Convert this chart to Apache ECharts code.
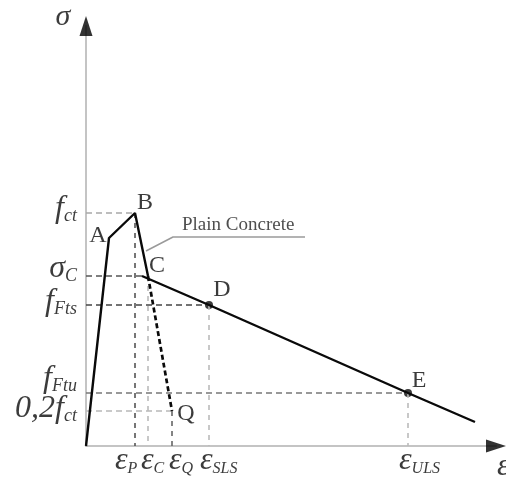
<!DOCTYPE html>
<html>
<head>
<meta charset="utf-8">
<style>
  html, body { margin: 0; padding: 0; background: #fff; }
  #chart { width: 506px; height: 484px; }
</style>
<script src="https://cdn.jsdelivr.net/npm/echarts/dist/echarts.min.js"></script>
</head>
<body>
<div id="chart"></div>
<script>
// Tension softening law of fibre reinforced concrete (schematic sigma-epsilon diagram)

// Linear-elastic branch, pre-peak branch and drop to point C
const riseX = [0, 2.3, 4.9, 6.2];
const riseY = [0, 20.8, 23.3, 17.0];
// Plain concrete continues its drop down to Q
const plainX = [6.2, 8.6];
const plainY = [17.0, 3.5];
// Post-cracking (softening) branch through D and E
const softX = [5.6, 12.3, 32.2, 38.9];
const softY = [17.0, 14.1, 5.3, 2.4];

// Named points
const pointNames = ['A', 'B', 'C', 'D', 'E', 'Q'];
const pointX = [2.3, 4.9, 6.2, 12.3, 32.2, 8.6];
const pointY = [20.8, 23.3, 17.0, 14.1, 5.3, 3.5];
const markedPoints = ['D', 'E'];

// Stress levels on the vertical axis (symbol + subscript), with the strain where each guide ends
const stressMain = ['f', 'σ', 'f', 'f', '0,2f'];
const stressSub = ['ct', 'C', 'Fts', 'Ftu', 'ct'];
const stressValues = [23.3, 17.0, 14.1, 5.3, 3.5];
const stressGuideEnd = [4.9, 5.6, 12.3, 32.2, 8.6];

// Strain levels on the horizontal axis, with the stress where each guide starts
const strainMain = ['ε', 'ε', 'ε', 'ε', 'ε'];
const strainSub = ['P', 'C', 'Q', 'SLS', 'ULS'];
const strainValues = [4.9, 6.2, 8.6, 12.3, 32.2];
const strainGuideTop = [23.3, 17.0, 3.5, 14.1, 5.3];

// Annotation for the plain concrete branch: leader from the curve, then the underline
const leaderX = [6.0, 8.7, 21.9];
const leaderY = [19.5, 20.9, 20.9];
const leaderText = 'Plain Concrete';

const xMax = 41, yMax = 42;
const axisTitleX = 'ε', axisTitleY = 'σ';

// ---- styling ----
const SERIF = '"Liberation Serif", "Times New Roman", serif';
const INK = '#0a0a0a';
const stressGuideColor = ['#a8a8a8', '#555', '#444', '#777', '#b8b8b8'];
const strainGuideColor = ['#555', '#bbb', '#666', '#bbb', '#bbb'];
const stressLabelOffset = [[0, -3], [0, -6], [0, -2], [0, -13], [0, -1]];
const strainLabelOffset = [[-20, -3], [-7, -3], [-3, -3], [-9, -3], [-9, -3]];
const pointLabelOffset = {
  A: [-11, -2], B: [10, -10], C: [9, -10], D: [13, -15], E: [11, -12], Q: [14, 3]
};

const zip = (xs, ys) => xs.map((x, i) => [x, ys[i]]);

const richMath = {
  m: { fontFamily: SERIF, fontStyle: 'italic', fontSize: 32, color: INK, lineHeight: 30, verticalAlign: 'bottom' },
  s: { fontFamily: SERIF, fontStyle: 'italic', fontSize: 18, color: INK, lineHeight: 12, verticalAlign: 'bottom' },
  e: { fontFamily: SERIF, fontStyle: 'italic', fontSize: 32, color: INK, lineHeight: 30, verticalAlign: 'bottom' },
  es: { fontFamily: SERIF, fontStyle: 'italic', fontSize: 16, color: INK, lineHeight: 12, verticalAlign: 'bottom' }
};

const series = [];

// Dashed guide lines from the axes to the characteristic points
stressValues.forEach((v, i) => {
  series.push({
    type: 'line', silent: true, symbol: 'none',
    data: [[0, v], [stressGuideEnd[i], v]],
    lineStyle: { color: stressGuideColor[i], width: 1.6, type: [6, 4] }
  });
});
strainValues.forEach((v, i) => {
  series.push({
    type: 'line', silent: true, symbol: 'none',
    data: [[v, strainGuideTop[i]], [v, 0]],
    lineStyle: { color: strainGuideColor[i], width: 1.6, type: [5, 5] }
  });
});

// Constitutive curve
series.push({
  type: 'line', silent: true, symbol: 'none',
  data: zip(riseX, riseY),
  lineStyle: { color: INK, width: 2.4 }
});
series.push({
  type: 'line', silent: true, symbol: 'none',
  data: zip(plainX, plainY),
  lineStyle: { color: INK, width: 2.7, type: [5, 3] }
});
series.push({
  type: 'line', silent: true, symbol: 'none',
  data: zip(softX, softY),
  lineStyle: { color: INK, width: 2.4 }
});

// Leader line and its caption
series.push({
  type: 'line', silent: true, symbol: 'none',
  data: zip(leaderX, leaderY),
  lineStyle: { color: '#9a9a9a', width: 1.5 }
});
series.push({
  type: 'scatter', silent: true, symbolSize: 0, clip: false,
  data: [{
    value: [leaderX[1], leaderY[1]],
    label: {
      show: true, position: 'inside', align: 'left', verticalAlign: 'bottom',
      offset: [9, -2],
      formatter: leaderText,
      fontFamily: SERIF, fontSize: 19, color: '#222'
    }
  }]
});

// Dots at D and E
series.push({
  type: 'scatter', silent: true, clip: false, symbol: 'circle', symbolSize: 8,
  itemStyle: { color: INK },
  data: pointNames.map((n, i) => [pointX[i], pointY[i]])
    .filter((p, i) => markedPoints.includes(pointNames[i]))
});

// Point letters
series.push({
  type: 'scatter', silent: true, clip: false, symbolSize: 0,
  data: pointNames.map((n, i) => ({
    value: [pointX[i], pointY[i]],
    label: {
      show: true, position: 'inside', align: 'center', verticalAlign: 'middle',
      offset: pointLabelOffset[n], formatter: n,
      fontFamily: SERIF, fontSize: 24, color: INK
    }
  }))
});

// Stress labels on the vertical axis
series.push({
  type: 'scatter', silent: true, clip: false, symbolSize: 0,
  data: stressValues.map((v, i) => ({
    value: [0, v],
    label: {
      show: true, position: 'left', distance: 9,
      offset: stressLabelOffset[i],
      formatter: '{m|' + stressMain[i] + '}{s|' + stressSub[i] + '}',
      rich: richMath
    }
  }))
});

// Strain labels on the horizontal axis
series.push({
  type: 'scatter', silent: true, clip: false, symbolSize: 0,
  data: strainValues.map((v, i) => ({
    value: [v, 0],
    label: {
      show: true, position: 'bottom', distance: 4, align: 'left',
      offset: strainLabelOffset[i],
      formatter: '{e|' + strainMain[i] + '}{es|' + strainSub[i] + '}',
      rich: richMath
    }
  }))
});

// Axis arrow heads and axis titles
series.push({
  type: 'scatter', silent: true, clip: false, symbol: 'triangle',
  symbolSize: [13, 20], itemStyle: { color: '#000' },
  data: [
    { value: [xMax, 0], symbolRotate: -90 },
    { value: [0, yMax], symbolRotate: 0 }
  ]
});
series.push({
  type: 'scatter', silent: true, clip: false, symbolSize: 0,
  data: [
    {
      value: [0, yMax],
      label: { show: true, position: 'inside', offset: [-23, -9], formatter: axisTitleY,
        fontFamily: SERIF, fontStyle: 'italic', fontSize: 30, color: INK }
    },
    {
      value: [xMax, 0],
      label: { show: true, position: 'inside', align: 'left', offset: [1, 21], formatter: axisTitleX,
        fontFamily: SERIF, fontStyle: 'italic', fontSize: 32, color: INK }
    }
  ]
});

const axisCommon = {
  type: 'value',
  axisLine: { show: true, onZero: false, lineStyle: { color: '#c4c4c4', width: 2 } },
  axisTick: { show: false },
  axisLabel: { show: false },
  splitLine: { show: false }
};

const chart = echarts.init(document.getElementById('chart'), null, { renderer: 'canvas' });
chart.setOption({
  animation: false,
  backgroundColor: '#fff',
  grid: { left: 86, top: 26, width: 410, height: 420, containLabel: false },
  xAxis: Object.assign({ min: 0, max: xMax }, axisCommon),
  yAxis: Object.assign({ min: 0, max: yMax }, axisCommon),
  series: series
});
</script>
</body>
</html>
